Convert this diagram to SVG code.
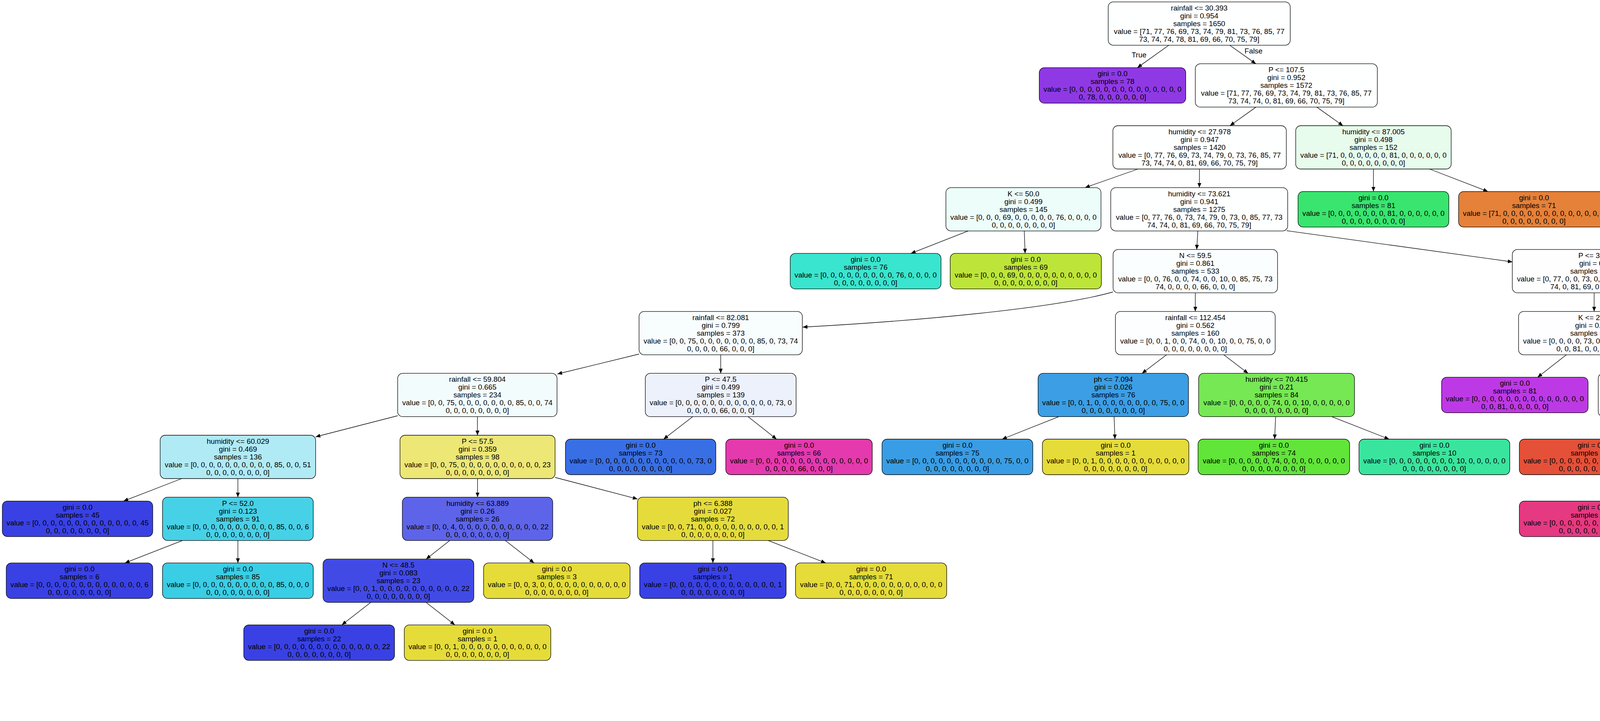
<svg xmlns="http://www.w3.org/2000/svg" width="7103" height="1847" viewBox="0 0 7103 1847">
<defs>
<marker id="ah" viewBox="0 0 12 10" refX="12" refY="5" markerWidth="12" markerHeight="10" markerUnits="userSpaceOnUse" orient="auto"><path d="M0,0L12,5L0,10z" fill="#000"/></marker>
</defs>
<style>
.n rect{stroke:#000;stroke-width:1.3}
text{font-family:"Liberation Sans",Arial,Helvetica,sans-serif;font-size:18.8px;text-anchor:middle;fill:#000}
.e path{fill:none;stroke:#000;stroke-width:1.3;marker-end:url(#ah)}
</style>
<rect x="0" y="0" width="7103" height="1847" fill="#fff"/>
<g id="nodes">
<g id="n0" class="n" transform="translate(3070,60.3)"><rect x="-233" y="-55.5" width="466" height="111" rx="13" fill="#feffff"/><text><tspan x="0" y="-33.5">rainfall &lt;= 30.393</tspan><tspan x="0" y="-13.5">gini = 0.954</tspan><tspan x="0" y="6.5">samples = 1650</tspan><tspan x="0" y="26.5">value = [71, 77, 76, 69, 73, 74, 79, 81, 73, 76, 85, 77</tspan><tspan x="0" y="46.5">73, 74, 74, 78, 81, 69, 66, 70, 75, 79]</tspan></text></g>
<g id="n1" class="n" transform="translate(2848,218.9)"><rect x="-187.5" y="-45.5" width="375" height="91" rx="13" fill="#8f39e5"/><text><tspan x="0" y="-23.5">gini = 0.0</tspan><tspan x="0" y="-3.5">samples = 78</tspan><tspan x="0" y="16.5">value = [0, 0, 0, 0, 0, 0, 0, 0, 0, 0, 0, 0, 0, 0</tspan><tspan x="0" y="36.5">0, 78, 0, 0, 0, 0, 0, 0]</tspan></text></g>
<g id="n2" class="n" transform="translate(3293,218.9)"><rect x="-233" y="-55.5" width="466" height="111" rx="13" fill="#feffff"/><text><tspan x="0" y="-33.5">P &lt;= 107.5</tspan><tspan x="0" y="-13.5">gini = 0.952</tspan><tspan x="0" y="6.5">samples = 1572</tspan><tspan x="0" y="26.5">value = [71, 77, 76, 69, 73, 74, 79, 81, 73, 76, 85, 77</tspan><tspan x="0" y="46.5">73, 74, 74, 0, 81, 69, 66, 70, 75, 79]</tspan></text></g>
<g id="n3" class="n" transform="translate(3071,377.5)"><rect x="-222" y="-55.5" width="444" height="111" rx="13" fill="#feffff"/><text><tspan x="0" y="-33.5">humidity &lt;= 27.978</tspan><tspan x="0" y="-13.5">gini = 0.947</tspan><tspan x="0" y="6.5">samples = 1420</tspan><tspan x="0" y="26.5">value = [0, 77, 76, 69, 73, 74, 79, 0, 73, 76, 85, 77</tspan><tspan x="0" y="46.5">73, 74, 74, 0, 81, 69, 66, 70, 75, 79]</tspan></text></g>
<g id="n4" class="n" transform="translate(3516,377.5)"><rect x="-199" y="-55.5" width="398" height="111" rx="13" fill="#e7fced"/><text><tspan x="0" y="-33.5">humidity &lt;= 87.005</tspan><tspan x="0" y="-13.5">gini = 0.498</tspan><tspan x="0" y="6.5">samples = 152</tspan><tspan x="0" y="26.5">value = [71, 0, 0, 0, 0, 0, 0, 81, 0, 0, 0, 0, 0, 0</tspan><tspan x="0" y="46.5">0, 0, 0, 0, 0, 0, 0, 0]</tspan></text></g>
<g id="n5" class="n" transform="translate(2620,536.1)"><rect x="-198.5" y="-55.5" width="397" height="111" rx="13" fill="#edfdfa"/><text><tspan x="0" y="-33.5">K &lt;= 50.0</tspan><tspan x="0" y="-13.5">gini = 0.499</tspan><tspan x="0" y="6.5">samples = 145</tspan><tspan x="0" y="26.5">value = [0, 0, 0, 69, 0, 0, 0, 0, 0, 76, 0, 0, 0, 0</tspan><tspan x="0" y="46.5">0, 0, 0, 0, 0, 0, 0, 0]</tspan></text></g>
<g id="n6" class="n" transform="translate(3070,536.1)"><rect x="-226.5" y="-55.5" width="453" height="111" rx="13" fill="#feffff"/><text><tspan x="0" y="-33.5">humidity &lt;= 73.621</tspan><tspan x="0" y="-13.5">gini = 0.941</tspan><tspan x="0" y="6.5">samples = 1275</tspan><tspan x="0" y="26.5">value = [0, 77, 76, 0, 73, 74, 79, 0, 73, 0, 85, 77, 73</tspan><tspan x="0" y="46.5">74, 74, 0, 81, 69, 66, 70, 75, 79]</tspan></text></g>
<g id="n7" class="n" transform="translate(3516,536.1)"><rect x="-193" y="-45.5" width="386" height="91" rx="13" fill="#39e56f"/><text><tspan x="0" y="-23.5">gini = 0.0</tspan><tspan x="0" y="-3.5">samples = 81</tspan><tspan x="0" y="16.5">value = [0, 0, 0, 0, 0, 0, 0, 81, 0, 0, 0, 0, 0, 0</tspan><tspan x="0" y="36.5">0, 0, 0, 0, 0, 0, 0, 0]</tspan></text></g>
<g id="n8" class="n" transform="translate(3927,536.1)"><rect x="-193" y="-45.5" width="386" height="91" rx="13" fill="#e58139"/><text><tspan x="0" y="-23.5">gini = 0.0</tspan><tspan x="0" y="-3.5">samples = 71</tspan><tspan x="0" y="16.5">value = [71, 0, 0, 0, 0, 0, 0, 0, 0, 0, 0, 0, 0, 0</tspan><tspan x="0" y="36.5">0, 0, 0, 0, 0, 0, 0, 0]</tspan></text></g>
<g id="n9" class="n" transform="translate(2216,694.7)"><rect x="-193" y="-45.5" width="386" height="91" rx="13" fill="#39e5ce"/><text><tspan x="0" y="-23.5">gini = 0.0</tspan><tspan x="0" y="-3.5">samples = 76</tspan><tspan x="0" y="16.5">value = [0, 0, 0, 0, 0, 0, 0, 0, 0, 76, 0, 0, 0, 0</tspan><tspan x="0" y="36.5">0, 0, 0, 0, 0, 0, 0, 0]</tspan></text></g>
<g id="n10" class="n" transform="translate(2626,694.7)"><rect x="-193.5" y="-45.5" width="387" height="91" rx="13" fill="#bde539"/><text><tspan x="0" y="-23.5">gini = 0.0</tspan><tspan x="0" y="-3.5">samples = 69</tspan><tspan x="0" y="16.5">value = [0, 0, 0, 69, 0, 0, 0, 0, 0, 0, 0, 0, 0, 0</tspan><tspan x="0" y="36.5">0, 0, 0, 0, 0, 0, 0, 0]</tspan></text></g>
<g id="n11" class="n" transform="translate(3060,694.7)"><rect x="-210.5" y="-55.5" width="421" height="111" rx="13" fill="#fbfefe"/><text><tspan x="0" y="-33.5">N &lt;= 59.5</tspan><tspan x="0" y="-13.5">gini = 0.861</tspan><tspan x="0" y="6.5">samples = 533</tspan><tspan x="0" y="26.5">value = [0, 0, 76, 0, 0, 74, 0, 0, 10, 0, 85, 75, 73</tspan><tspan x="0" y="46.5">74, 0, 0, 0, 0, 66, 0, 0, 0]</tspan></text></g>
<g id="n12" class="n" transform="translate(4081,694.7)"><rect x="-209.5" y="-55.5" width="419" height="111" rx="13" fill="#fffeff"/><text><tspan x="0" y="-33.5">P &lt;= 32.5</tspan><tspan x="0" y="-13.5">gini = 0.9</tspan><tspan x="0" y="6.5">samples = 742</tspan><tspan x="0" y="26.5">value = [0, 77, 0, 0, 73, 0, 79, 0, 63, 0, 0, 2, 0, 0</tspan><tspan x="0" y="46.5">74, 0, 81, 69, 0, 70, 75, 79]</tspan></text></g>
<g id="n13" class="n" transform="translate(1845,853.3)"><rect x="-209" y="-55.5" width="418" height="111" rx="13" fill="#f8fdfe"/><text><tspan x="0" y="-33.5">rainfall &lt;= 82.081</tspan><tspan x="0" y="-13.5">gini = 0.799</tspan><tspan x="0" y="6.5">samples = 373</tspan><tspan x="0" y="26.5">value = [0, 0, 75, 0, 0, 0, 0, 0, 0, 0, 85, 0, 73, 74</tspan><tspan x="0" y="46.5">0, 0, 0, 0, 66, 0, 0, 0]</tspan></text></g>
<g id="n14" class="n" transform="translate(3060,853.3)"><rect x="-204.5" y="-55.5" width="409" height="111" rx="13" fill="#fdfeff"/><text><tspan x="0" y="-33.5">rainfall &lt;= 112.454</tspan><tspan x="0" y="-13.5">gini = 0.562</tspan><tspan x="0" y="6.5">samples = 160</tspan><tspan x="0" y="26.5">value = [0, 0, 1, 0, 0, 74, 0, 0, 10, 0, 0, 75, 0, 0</tspan><tspan x="0" y="46.5">0, 0, 0, 0, 0, 0, 0, 0]</tspan></text></g>
<g id="n15" class="n" transform="translate(4081,853.3)"><rect x="-193.5" y="-55.5" width="387" height="111" rx="13" fill="#fefdff"/><text><tspan x="0" y="-33.5">K &lt;= 20.0</tspan><tspan x="0" y="-13.5">gini = 0.749</tspan><tspan x="0" y="6.5">samples = 303</tspan><tspan x="0" y="26.5">value = [0, 0, 0, 0, 73, 0, 0, 0, 0, 0, 0, 0, 0, 0</tspan><tspan x="0" y="46.5">0, 0, 81, 0, 0, 70, 0, 79]</tspan></text></g>
<g id="n16" class="n" transform="translate(5184,853.3)"><rect x="-204.5" y="-55.5" width="409" height="111" rx="13" fill="#fefffe"/><text><tspan x="0" y="-33.5">K &lt;= 30.0</tspan><tspan x="0" y="-13.5">gini = 0.834</tspan><tspan x="0" y="6.5">samples = 439</tspan><tspan x="0" y="26.5">value = [0, 77, 0, 0, 0, 0, 79, 0, 63, 0, 0, 2, 0, 0</tspan><tspan x="0" y="46.5">74, 0, 0, 69, 0, 0, 75, 0]</tspan></text></g>
<g id="n17" class="n" transform="translate(1222,1011.9)"><rect x="-204" y="-55.5" width="408" height="111" rx="13" fill="#f3fcfd"/><text><tspan x="0" y="-33.5">rainfall &lt;= 59.804</tspan><tspan x="0" y="-13.5">gini = 0.665</tspan><tspan x="0" y="6.5">samples = 234</tspan><tspan x="0" y="26.5">value = [0, 0, 75, 0, 0, 0, 0, 0, 0, 0, 85, 0, 0, 74</tspan><tspan x="0" y="46.5">0, 0, 0, 0, 0, 0, 0, 0]</tspan></text></g>
<g id="n18" class="n" transform="translate(1845,1011.9)"><rect x="-193" y="-55.5" width="386" height="111" rx="13" fill="#ecf1fc"/><text><tspan x="0" y="-33.5">P &lt;= 47.5</tspan><tspan x="0" y="-13.5">gini = 0.499</tspan><tspan x="0" y="6.5">samples = 139</tspan><tspan x="0" y="26.5">value = [0, 0, 0, 0, 0, 0, 0, 0, 0, 0, 0, 0, 73, 0</tspan><tspan x="0" y="46.5">0, 0, 0, 0, 66, 0, 0, 0]</tspan></text></g>
<g id="n19" class="n" transform="translate(2850,1011.9)"><rect x="-192.5" y="-55.5" width="385" height="111" rx="13" fill="#3c9ee5"/><text><tspan x="0" y="-33.5">ph &lt;= 7.094</tspan><tspan x="0" y="-13.5">gini = 0.026</tspan><tspan x="0" y="6.5">samples = 76</tspan><tspan x="0" y="26.5">value = [0, 0, 1, 0, 0, 0, 0, 0, 0, 0, 0, 75, 0, 0</tspan><tspan x="0" y="46.5">0, 0, 0, 0, 0, 0, 0, 0]</tspan></text></g>
<g id="n20" class="n" transform="translate(3268,1011.9)"><rect x="-199.5" y="-55.5" width="399" height="111" rx="13" fill="#76e854"/><text><tspan x="0" y="-33.5">humidity &lt;= 70.415</tspan><tspan x="0" y="-13.5">gini = 0.21</tspan><tspan x="0" y="6.5">samples = 84</tspan><tspan x="0" y="26.5">value = [0, 0, 0, 0, 0, 74, 0, 0, 10, 0, 0, 0, 0, 0</tspan><tspan x="0" y="46.5">0, 0, 0, 0, 0, 0, 0, 0]</tspan></text></g>
<g id="n21" class="n" transform="translate(3878,1011.9)"><rect x="-187.5" y="-45.5" width="375" height="91" rx="13" fill="#bd39e5"/><text><tspan x="0" y="-23.5">gini = 0.0</tspan><tspan x="0" y="-3.5">samples = 81</tspan><tspan x="0" y="16.5">value = [0, 0, 0, 0, 0, 0, 0, 0, 0, 0, 0, 0, 0, 0</tspan><tspan x="0" y="36.5">0, 0, 81, 0, 0, 0, 0, 0]</tspan></text></g>
<g id="n22" class="n" transform="translate(4284,1011.9)"><rect x="-192.5" y="-55.5" width="385" height="111" rx="13" fill="#fef8f7"/><text><tspan x="0" y="-33.5">rainfall &lt;= 81.139</tspan><tspan x="0" y="-13.5">gini = 0.666</tspan><tspan x="0" y="6.5">samples = 222</tspan><tspan x="0" y="26.5">value = [0, 0, 0, 0, 73, 0, 0, 0, 0, 0, 0, 0, 0, 0</tspan><tspan x="0" y="46.5">0, 0, 0, 0, 0, 70, 0, 79]</tspan></text></g>
<g id="n23" class="n" transform="translate(5184,1011.9)"><rect x="-193" y="-55.5" width="386" height="111" rx="13" fill="#f3fdf3"/><text><tspan x="0" y="-33.5">N &lt;= 99.0</tspan><tspan x="0" y="-13.5">gini = 0.512</tspan><tspan x="0" y="6.5">samples = 155</tspan><tspan x="0" y="26.5">value = [0, 0, 0, 0, 0, 0, 79, 0, 0, 0, 0, 2, 0, 0</tspan><tspan x="0" y="46.5">74, 0, 0, 0, 0, 0, 0, 0]</tspan></text></g>
<g id="n24" class="n" transform="translate(5996,1011.9)"><rect x="-199" y="-55.5" width="398" height="111" rx="13" fill="#fffefd"/><text><tspan x="0" y="-33.5">P &lt;= 69.5</tspan><tspan x="0" y="-13.5">gini = 0.749</tspan><tspan x="0" y="6.5">samples = 284</tspan><tspan x="0" y="26.5">value = [0, 77, 0, 0, 0, 0, 0, 0, 63, 0, 0, 0, 0, 0</tspan><tspan x="0" y="46.5">0, 0, 0, 69, 0, 0, 75, 0]</tspan></text></g>
<g id="n25" class="n" transform="translate(609,1170.5)"><rect x="-199" y="-55.5" width="398" height="111" rx="13" fill="#b0ebf5"/><text><tspan x="0" y="-33.5">humidity &lt;= 60.029</tspan><tspan x="0" y="-13.5">gini = 0.469</tspan><tspan x="0" y="6.5">samples = 136</tspan><tspan x="0" y="26.5">value = [0, 0, 0, 0, 0, 0, 0, 0, 0, 0, 85, 0, 0, 51</tspan><tspan x="0" y="46.5">0, 0, 0, 0, 0, 0, 0, 0]</tspan></text></g>
<g id="n26" class="n" transform="translate(1222.5,1170.5)"><rect x="-198.5" y="-55.5" width="397" height="111" rx="13" fill="#ede776"/><text><tspan x="0" y="-33.5">P &lt;= 57.5</tspan><tspan x="0" y="-13.5">gini = 0.359</tspan><tspan x="0" y="6.5">samples = 98</tspan><tspan x="0" y="26.5">value = [0, 0, 75, 0, 0, 0, 0, 0, 0, 0, 0, 0, 0, 23</tspan><tspan x="0" y="46.5">0, 0, 0, 0, 0, 0, 0, 0]</tspan></text></g>
<g id="n27" class="n" transform="translate(1640,1170.5)"><rect x="-192.5" y="-45.5" width="385" height="91" rx="13" fill="#396fe5"/><text><tspan x="0" y="-23.5">gini = 0.0</tspan><tspan x="0" y="-3.5">samples = 73</tspan><tspan x="0" y="16.5">value = [0, 0, 0, 0, 0, 0, 0, 0, 0, 0, 0, 0, 73, 0</tspan><tspan x="0" y="36.5">0, 0, 0, 0, 0, 0, 0, 0]</tspan></text></g>
<g id="n28" class="n" transform="translate(2045.5,1170.5)"><rect x="-187.5" y="-45.5" width="375" height="91" rx="13" fill="#e539ae"/><text><tspan x="0" y="-23.5">gini = 0.0</tspan><tspan x="0" y="-3.5">samples = 66</tspan><tspan x="0" y="16.5">value = [0, 0, 0, 0, 0, 0, 0, 0, 0, 0, 0, 0, 0, 0</tspan><tspan x="0" y="36.5">0, 0, 0, 0, 66, 0, 0, 0]</tspan></text></g>
<g id="n29" class="n" transform="translate(2451,1170.5)"><rect x="-193" y="-45.5" width="386" height="91" rx="13" fill="#399de5"/><text><tspan x="0" y="-23.5">gini = 0.0</tspan><tspan x="0" y="-3.5">samples = 75</tspan><tspan x="0" y="16.5">value = [0, 0, 0, 0, 0, 0, 0, 0, 0, 0, 0, 75, 0, 0</tspan><tspan x="0" y="36.5">0, 0, 0, 0, 0, 0, 0, 0]</tspan></text></g>
<g id="n30" class="n" transform="translate(2856,1170.5)"><rect x="-187.5" y="-45.5" width="375" height="91" rx="13" fill="#e5dc39"/><text><tspan x="0" y="-23.5">gini = 0.0</tspan><tspan x="0" y="-3.5">samples = 1</tspan><tspan x="0" y="16.5">value = [0, 0, 1, 0, 0, 0, 0, 0, 0, 0, 0, 0, 0, 0</tspan><tspan x="0" y="36.5">0, 0, 0, 0, 0, 0, 0, 0]</tspan></text></g>
<g id="n31" class="n" transform="translate(3261,1170.5)"><rect x="-194" y="-45.5" width="388" height="91" rx="13" fill="#61e539"/><text><tspan x="0" y="-23.5">gini = 0.0</tspan><tspan x="0" y="-3.5">samples = 74</tspan><tspan x="0" y="16.5">value = [0, 0, 0, 0, 0, 74, 0, 0, 0, 0, 0, 0, 0, 0</tspan><tspan x="0" y="36.5">0, 0, 0, 0, 0, 0, 0, 0]</tspan></text></g>
<g id="n32" class="n" transform="translate(3672,1170.5)"><rect x="-193" y="-45.5" width="386" height="91" rx="13" fill="#39e59d"/><text><tspan x="0" y="-23.5">gini = 0.0</tspan><tspan x="0" y="-3.5">samples = 10</tspan><tspan x="0" y="16.5">value = [0, 0, 0, 0, 0, 0, 0, 0, 10, 0, 0, 0, 0, 0</tspan><tspan x="0" y="36.5">0, 0, 0, 0, 0, 0, 0, 0]</tspan></text></g>
<g id="n33" class="n" transform="translate(4077,1170.5)"><rect x="-187.5" y="-45.5" width="375" height="91" rx="13" fill="#e55039"/><text><tspan x="0" y="-23.5">gini = 0.0</tspan><tspan x="0" y="-3.5">samples = 79</tspan><tspan x="0" y="16.5">value = [0, 0, 0, 0, 0, 0, 0, 0, 0, 0, 0, 0, 0, 0</tspan><tspan x="0" y="36.5">0, 0, 0, 0, 0, 0, 0, 79]</tspan></text></g>
<g id="n34" class="n" transform="translate(4483,1170.5)"><rect x="-192.5" y="-55.5" width="385" height="111" rx="13" fill="#fafef7"/><text><tspan x="0" y="-33.5">temperature &lt;= 24.968</tspan><tspan x="0" y="-13.5">gini = 0.5</tspan><tspan x="0" y="6.5">samples = 143</tspan><tspan x="0" y="26.5">value = [0, 0, 0, 0, 73, 0, 0, 0, 0, 0, 0, 0, 0, 0</tspan><tspan x="0" y="46.5">0, 0, 0, 0, 0, 70, 0, 0]</tspan></text></g>
<g id="n35" class="n" transform="translate(4979,1170.5)"><rect x="-193" y="-55.5" width="386" height="111" rx="13" fill="#653ee6"/><text><tspan x="0" y="-33.5">humidity &lt;= 77.432</tspan><tspan x="0" y="-13.5">gini = 0.051</tspan><tspan x="0" y="6.5">samples = 76</tspan><tspan x="0" y="26.5">value = [0, 0, 0, 0, 0, 0, 0, 0, 0, 0, 0, 2, 0, 0</tspan><tspan x="0" y="46.5">74, 0, 0, 0, 0, 0, 0, 0]</tspan></text></g>
<g id="n36" class="n" transform="translate(5391,1170.5)"><rect x="-193" y="-45.5" width="386" height="91" rx="13" fill="#39e541"/><text><tspan x="0" y="-23.5">gini = 0.0</tspan><tspan x="0" y="-3.5">samples = 79</tspan><tspan x="0" y="16.5">value = [0, 0, 0, 0, 0, 0, 79, 0, 0, 0, 0, 0, 0, 0</tspan><tspan x="0" y="36.5">0, 0, 0, 0, 0, 0, 0, 0]</tspan></text></g>
<g id="n37" class="n" transform="translate(5996,1170.5)"><rect x="-192.5" y="-55.5" width="385" height="111" rx="13" fill="#fdf3f5"/><text><tspan x="0" y="-33.5">humidity &lt;= 89.984</tspan><tspan x="0" y="-13.5">gini = 0.665</tspan><tspan x="0" y="6.5">samples = 205</tspan><tspan x="0" y="26.5">value = [0, 0, 0, 0, 0, 0, 0, 0, 63, 0, 0, 0, 0, 0</tspan><tspan x="0" y="46.5">0, 0, 0, 67, 0, 0, 75, 0]</tspan></text></g>
<g id="n38" class="n" transform="translate(6504,1170.5)"><rect x="-193" y="-55.5" width="386" height="111" rx="13" fill="#e6b03e"/><text><tspan x="0" y="-33.5">ph &lt;= 6.571</tspan><tspan x="0" y="-13.5">gini = 0.049</tspan><tspan x="0" y="6.5">samples = 79</tspan><tspan x="0" y="26.5">value = [0, 77, 0, 0, 0, 0, 0, 0, 0, 0, 0, 0, 0, 0</tspan><tspan x="0" y="46.5">0, 0, 0, 2, 0, 0, 0, 0]</tspan></text></g>
<g id="n39" class="n" transform="translate(198.5,1329.1)"><rect x="-192.5" y="-45.5" width="385" height="91" rx="13" fill="#3941e5"/><text><tspan x="0" y="-23.5">gini = 0.0</tspan><tspan x="0" y="-3.5">samples = 45</tspan><tspan x="0" y="16.5">value = [0, 0, 0, 0, 0, 0, 0, 0, 0, 0, 0, 0, 0, 45</tspan><tspan x="0" y="36.5">0, 0, 0, 0, 0, 0, 0, 0]</tspan></text></g>
<g id="n40" class="n" transform="translate(609,1329.1)"><rect x="-193" y="-55.5" width="386" height="111" rx="13" fill="#47d1e7"/><text><tspan x="0" y="-33.5">P &lt;= 52.0</tspan><tspan x="0" y="-13.5">gini = 0.123</tspan><tspan x="0" y="6.5">samples = 91</tspan><tspan x="0" y="26.5">value = [0, 0, 0, 0, 0, 0, 0, 0, 0, 0, 85, 0, 0, 6</tspan><tspan x="0" y="46.5">0, 0, 0, 0, 0, 0, 0, 0]</tspan></text></g>
<g id="n41" class="n" transform="translate(1222.5,1329.1)"><rect x="-192.5" y="-55.5" width="385" height="111" rx="13" fill="#5d64ea"/><text><tspan x="0" y="-33.5">humidity &lt;= 63.889</tspan><tspan x="0" y="-13.5">gini = 0.26</tspan><tspan x="0" y="6.5">samples = 26</tspan><tspan x="0" y="26.5">value = [0, 0, 4, 0, 0, 0, 0, 0, 0, 0, 0, 0, 0, 22</tspan><tspan x="0" y="46.5">0, 0, 0, 0, 0, 0, 0, 0]</tspan></text></g>
<g id="n42" class="n" transform="translate(1825,1329.1)"><rect x="-193" y="-55.5" width="386" height="111" rx="13" fill="#e5dc3c"/><text><tspan x="0" y="-33.5">ph &lt;= 6.388</tspan><tspan x="0" y="-13.5">gini = 0.027</tspan><tspan x="0" y="6.5">samples = 72</tspan><tspan x="0" y="26.5">value = [0, 0, 71, 0, 0, 0, 0, 0, 0, 0, 0, 0, 0, 1</tspan><tspan x="0" y="46.5">0, 0, 0, 0, 0, 0, 0, 0]</tspan></text></g>
<g id="n43" class="n" transform="translate(4077,1329.1)"><rect x="-187.5" y="-45.5" width="375" height="91" rx="13" fill="#e53981"/><text><tspan x="0" y="-23.5">gini = 0.0</tspan><tspan x="0" y="-3.5">samples = 70</tspan><tspan x="0" y="16.5">value = [0, 0, 0, 0, 0, 0, 0, 0, 0, 0, 0, 0, 0, 0</tspan><tspan x="0" y="36.5">0, 0, 0, 0, 0, 70, 0, 0]</tspan></text></g>
<g id="n44" class="n" transform="translate(4483,1329.1)"><rect x="-193" y="-45.5" width="386" height="91" rx="13" fill="#8fe539"/><text><tspan x="0" y="-23.5">gini = 0.0</tspan><tspan x="0" y="-3.5">samples = 73</tspan><tspan x="0" y="16.5">value = [0, 0, 0, 0, 73, 0, 0, 0, 0, 0, 0, 0, 0, 0</tspan><tspan x="0" y="36.5">0, 0, 0, 0, 0, 0, 0, 0]</tspan></text></g>
<g id="n45" class="n" transform="translate(4888,1329.1)"><rect x="-187.5" y="-45.5" width="375" height="91" rx="13" fill="#399de5"/><text><tspan x="0" y="-23.5">gini = 0.0</tspan><tspan x="0" y="-3.5">samples = 2</tspan><tspan x="0" y="16.5">value = [0, 0, 0, 0, 0, 0, 0, 0, 0, 0, 0, 2, 0, 0</tspan><tspan x="0" y="36.5">0, 0, 0, 0, 0, 0, 0, 0]</tspan></text></g>
<g id="n46" class="n" transform="translate(5288,1329.1)"><rect x="-187.5" y="-45.5" width="375" height="91" rx="13" fill="#6139e5"/><text><tspan x="0" y="-23.5">gini = 0.0</tspan><tspan x="0" y="-3.5">samples = 74</tspan><tspan x="0" y="16.5">value = [0, 0, 0, 0, 0, 0, 0, 0, 0, 0, 0, 0, 0, 0</tspan><tspan x="0" y="36.5">74, 0, 0, 0, 0, 0, 0, 0]</tspan></text></g>
<g id="n47" class="n" transform="translate(5693,1329.1)"><rect x="-193" y="-55.5" width="386" height="111" rx="13" fill="#fbdfe3"/><text><tspan x="0" y="-33.5">rainfall &lt;= 199.782</tspan><tspan x="0" y="-13.5">gini = 0.496</tspan><tspan x="0" y="6.5">samples = 138</tspan><tspan x="0" y="26.5">value = [0, 0, 0, 0, 0, 0, 0, 0, 63, 0, 0, 0, 0, 0</tspan><tspan x="0" y="46.5">0, 0, 0, 0, 0, 0, 75, 0]</tspan></text></g>
<g id="n48" class="n" transform="translate(6098,1329.1)"><rect x="-187.5" y="-45.5" width="375" height="91" rx="13" fill="#e539dc"/><text><tspan x="0" y="-23.5">gini = 0.0</tspan><tspan x="0" y="-3.5">samples = 67</tspan><tspan x="0" y="16.5">value = [0, 0, 0, 0, 0, 0, 0, 0, 0, 0, 0, 0, 0, 0</tspan><tspan x="0" y="36.5">0, 0, 0, 67, 0, 0, 0, 0]</tspan></text></g>
<g id="n49" class="n" transform="translate(6504,1329.1)"><rect x="-193" y="-45.5" width="386" height="91" rx="13" fill="#e5ae39"/><text><tspan x="0" y="-23.5">gini = 0.0</tspan><tspan x="0" y="-3.5">samples = 77</tspan><tspan x="0" y="16.5">value = [0, 77, 0, 0, 0, 0, 0, 0, 0, 0, 0, 0, 0, 0</tspan><tspan x="0" y="36.5">0, 0, 0, 0, 0, 0, 0, 0]</tspan></text></g>
<g id="n50" class="n" transform="translate(6909,1329.1)"><rect x="-187.5" y="-45.5" width="375" height="91" rx="13" fill="#e539dc"/><text><tspan x="0" y="-23.5">gini = 0.0</tspan><tspan x="0" y="-3.5">samples = 2</tspan><tspan x="0" y="16.5">value = [0, 0, 0, 0, 0, 0, 0, 0, 0, 0, 0, 0, 0, 0</tspan><tspan x="0" y="36.5">0, 0, 0, 2, 0, 0, 0, 0]</tspan></text></g>
<g id="n51" class="n" transform="translate(203.5,1487.7)"><rect x="-187.5" y="-45.5" width="375" height="91" rx="13" fill="#3941e5"/><text><tspan x="0" y="-23.5">gini = 0.0</tspan><tspan x="0" y="-3.5">samples = 6</tspan><tspan x="0" y="16.5">value = [0, 0, 0, 0, 0, 0, 0, 0, 0, 0, 0, 0, 0, 6</tspan><tspan x="0" y="36.5">0, 0, 0, 0, 0, 0, 0, 0]</tspan></text></g>
<g id="n52" class="n" transform="translate(609,1487.7)"><rect x="-193" y="-45.5" width="386" height="91" rx="13" fill="#39cee5"/><text><tspan x="0" y="-23.5">gini = 0.0</tspan><tspan x="0" y="-3.5">samples = 85</tspan><tspan x="0" y="16.5">value = [0, 0, 0, 0, 0, 0, 0, 0, 0, 0, 85, 0, 0, 0</tspan><tspan x="0" y="36.5">0, 0, 0, 0, 0, 0, 0, 0]</tspan></text></g>
<g id="n53" class="n" transform="translate(1020,1487.7)"><rect x="-193" y="-55.5" width="386" height="111" rx="13" fill="#424ae6"/><text><tspan x="0" y="-33.5">N &lt;= 48.5</tspan><tspan x="0" y="-13.5">gini = 0.083</tspan><tspan x="0" y="6.5">samples = 23</tspan><tspan x="0" y="26.5">value = [0, 0, 1, 0, 0, 0, 0, 0, 0, 0, 0, 0, 0, 22</tspan><tspan x="0" y="46.5">0, 0, 0, 0, 0, 0, 0, 0]</tspan></text></g>
<g id="n54" class="n" transform="translate(1425.5,1487.7)"><rect x="-187.5" y="-45.5" width="375" height="91" rx="13" fill="#e5dc39"/><text><tspan x="0" y="-23.5">gini = 0.0</tspan><tspan x="0" y="-3.5">samples = 3</tspan><tspan x="0" y="16.5">value = [0, 0, 3, 0, 0, 0, 0, 0, 0, 0, 0, 0, 0, 0</tspan><tspan x="0" y="36.5">0, 0, 0, 0, 0, 0, 0, 0]</tspan></text></g>
<g id="n55" class="n" transform="translate(1825,1487.7)"><rect x="-187.5" y="-45.5" width="375" height="91" rx="13" fill="#3941e5"/><text><tspan x="0" y="-23.5">gini = 0.0</tspan><tspan x="0" y="-3.5">samples = 1</tspan><tspan x="0" y="16.5">value = [0, 0, 0, 0, 0, 0, 0, 0, 0, 0, 0, 0, 0, 1</tspan><tspan x="0" y="36.5">0, 0, 0, 0, 0, 0, 0, 0]</tspan></text></g>
<g id="n56" class="n" transform="translate(2230,1487.7)"><rect x="-193.5" y="-45.5" width="387" height="91" rx="13" fill="#e5dc39"/><text><tspan x="0" y="-23.5">gini = 0.0</tspan><tspan x="0" y="-3.5">samples = 71</tspan><tspan x="0" y="16.5">value = [0, 0, 71, 0, 0, 0, 0, 0, 0, 0, 0, 0, 0, 0</tspan><tspan x="0" y="36.5">0, 0, 0, 0, 0, 0, 0, 0]</tspan></text></g>
<g id="n57" class="n" transform="translate(5490,1487.7)"><rect x="-192.5" y="-55.5" width="385" height="111" rx="13" fill="#5ceaae"/><text><tspan x="0" y="-33.5">ph &lt;= 5.983</tspan><tspan x="0" y="-13.5">gini = 0.253</tspan><tspan x="0" y="6.5">samples = 74</tspan><tspan x="0" y="26.5">value = [0, 0, 0, 0, 0, 0, 0, 0, 63, 0, 0, 0, 0, 0</tspan><tspan x="0" y="46.5">0, 0, 0, 0, 0, 0, 11, 0]</tspan></text></g>
<g id="n58" class="n" transform="translate(5896,1487.7)"><rect x="-188" y="-45.5" width="376" height="91" rx="13" fill="#e53950"/><text><tspan x="0" y="-23.5">gini = 0.0</tspan><tspan x="0" y="-3.5">samples = 64</tspan><tspan x="0" y="16.5">value = [0, 0, 0, 0, 0, 0, 0, 0, 0, 0, 0, 0, 0, 0</tspan><tspan x="0" y="36.5">0, 0, 0, 0, 0, 0, 64, 0]</tspan></text></g>
<g id="n59" class="n" transform="translate(817,1646.3)"><rect x="-193" y="-45.5" width="386" height="91" rx="13" fill="#3941e5"/><text><tspan x="0" y="-23.5">gini = 0.0</tspan><tspan x="0" y="-3.5">samples = 22</tspan><tspan x="0" y="16.5">value = [0, 0, 0, 0, 0, 0, 0, 0, 0, 0, 0, 0, 0, 22</tspan><tspan x="0" y="36.5">0, 0, 0, 0, 0, 0, 0, 0]</tspan></text></g>
<g id="n60" class="n" transform="translate(1222.5,1646.3)"><rect x="-187.5" y="-45.5" width="375" height="91" rx="13" fill="#e5dc39"/><text><tspan x="0" y="-23.5">gini = 0.0</tspan><tspan x="0" y="-3.5">samples = 1</tspan><tspan x="0" y="16.5">value = [0, 0, 1, 0, 0, 0, 0, 0, 0, 0, 0, 0, 0, 0</tspan><tspan x="0" y="36.5">0, 0, 0, 0, 0, 0, 0, 0]</tspan></text></g>
<g id="n61" class="n" transform="translate(5288,1646.3)"><rect x="-187.5" y="-45.5" width="375" height="91" rx="13" fill="#e53950"/><text><tspan x="0" y="-23.5">gini = 0.0</tspan><tspan x="0" y="-3.5">samples = 7</tspan><tspan x="0" y="16.5">value = [0, 0, 0, 0, 0, 0, 0, 0, 0, 0, 0, 0, 0, 0</tspan><tspan x="0" y="36.5">0, 0, 0, 0, 0, 0, 7, 0]</tspan></text></g>
<g id="n62" class="n" transform="translate(5693,1646.3)"><rect x="-193" y="-55.5" width="386" height="111" rx="13" fill="#46e7a3"/><text><tspan x="0" y="-33.5">temperature &lt;= 22.889</tspan><tspan x="0" y="-13.5">gini = 0.112</tspan><tspan x="0" y="6.5">samples = 67</tspan><tspan x="0" y="26.5">value = [0, 0, 0, 0, 0, 0, 0, 0, 63, 0, 0, 0, 0, 0</tspan><tspan x="0" y="46.5">0, 0, 0, 0, 0, 0, 4, 0]</tspan></text></g>
<g id="n63" class="n" transform="translate(5490,1804.9)"><rect x="-187.5" y="-45.5" width="375" height="91" rx="13" fill="#e53950"/><text><tspan x="0" y="-23.5">gini = 0.0</tspan><tspan x="0" y="-3.5">samples = 2</tspan><tspan x="0" y="16.5">value = [0, 0, 0, 0, 0, 0, 0, 0, 0, 0, 0, 0, 0, 0</tspan><tspan x="0" y="36.5">0, 0, 0, 0, 0, 0, 2, 0]</tspan></text></g>
<g id="n64" class="n" transform="translate(5896,1804.9)"><rect x="-193" y="-45.5" width="386" height="91" rx="13" fill="#3fe6a0"/><text><tspan x="0" y="-23.5">gini = 0.06</tspan><tspan x="0" y="-3.5">samples = 65</tspan><tspan x="0" y="16.5">value = [0, 0, 0, 0, 0, 0, 0, 0, 63, 0, 0, 0, 0, 0</tspan><tspan x="0" y="36.5">0, 0, 0, 0, 0, 0, 2, 0]</tspan></text></g>
</g>
<g id="edges" class="e">
<path d="M2992.3,115.8L2911.7,173.4"/>
<path d="M3148,115.8L3215,163.4"/>
<path d="M3215.3,274.4L3148.7,322"/>
<path d="M3371,274.4L3438,322"/>
<path d="M2913.2,433L2777.8,480.6"/>
<path d="M3070.6,433L3070.4,480.6"/>
<path d="M3516,433L3516,490.6"/>
<path d="M3659.8,433L3809.1,490.6"/>
<path d="M2478.6,591.6L2331.9,649.2"/>
<path d="M2622.1,591.6L2624.3,649.2"/>
<path d="M3066.5,591.6L3063.5,639.2"/>
<path d="M3294,591L3872,671"/>
<path d="M2849,748C2700,790 2350,822 2055,838"/>
<path d="M3060,750.2L3060,797.8"/>
<path d="M4081,750.2L4081,797.8"/>
<path d="M4291,726L4979,822"/>
<path d="M1636,907L1427,958"/>
<path d="M1845,908.8L1845,956.4"/>
<path d="M2986.5,908.8L2923.5,956.4"/>
<path d="M3132.8,908.8L3195.2,956.4"/>
<path d="M4010,908.8L3936.2,966.4"/>
<path d="M4152,908.8L4213,956.4"/>
<path d="M5184,908.8L5184,956.4"/>
<path d="M5388.5,894L5797,972"/>
<path d="M1018,1065L808,1119"/>
<path d="M1222.2,1067.4L1222.3,1115"/>
<path d="M1773.3,1067.4L1698.8,1125"/>
<path d="M1915.2,1067.4L1988,1125"/>
<path d="M2710.4,1067.4L2565.5,1125"/>
<path d="M2852.1,1067.4L2854.3,1125"/>
<path d="M3265.6,1067.4L3263,1125"/>
<path d="M3409.4,1067.4L3556.1,1125"/>
<path d="M4211.6,1067.4L4136.4,1125"/>
<path d="M4353.6,1067.4L4413.4,1115"/>
<path d="M5112.3,1067.4L5050.7,1115"/>
<path d="M5256.4,1067.4L5331.6,1125"/>
<path d="M5996,1067.4L5996,1115"/>
<path d="M6173.8,1067.4L6326.2,1115"/>
<path d="M465.3,1226L316.3,1283.6"/>
<path d="M609,1226L609,1273.6"/>
<path d="M1222.5,1226L1222.5,1273.6"/>
<path d="M1421,1223L1632,1278.3"/>
<path d="M4340.9,1226L4193.5,1283.6"/>
<path d="M4483,1226L4483,1283.6"/>
<path d="M4947.2,1226L4914.1,1283.6"/>
<path d="M5087.1,1226L5199.3,1283.6"/>
<path d="M5890,1226L5799,1273.6"/>
<path d="M6031.7,1226L6068.7,1283.6"/>
<path d="M6504,1226L6504,1283.6"/>
<path d="M6645.7,1226L6792.8,1283.6"/>
<path d="M467.1,1384.6L319.8,1442.2"/>
<path d="M609,1384.6L609,1442.2"/>
<path d="M1151.6,1384.6L1090.9,1432.2"/>
<path d="M1293.5,1384.6L1367.3,1442.2"/>
<path d="M1825,1384.6L1825,1442.2"/>
<path d="M1966.7,1384.6L2113.8,1442.2"/>
<path d="M5622,1384.6L5561,1432.2"/>
<path d="M5764,1384.6L5837.8,1442.2"/>
<path d="M949,1543.2L875.2,1600.8"/>
<path d="M1090.9,1543.2L1164.4,1600.8"/>
<path d="M5419.3,1543.2L5346,1600.8"/>
<path d="M5561,1543.2L5622,1591.8"/>
<path d="M5622,1701.8L5548.2,1759.4"/>
<path d="M5764,1701.8L5837.8,1759.4"/>
<text x="2916" y="146.5">True</text>
<text x="3209" y="136.5">False</text>
</g>
</svg>
